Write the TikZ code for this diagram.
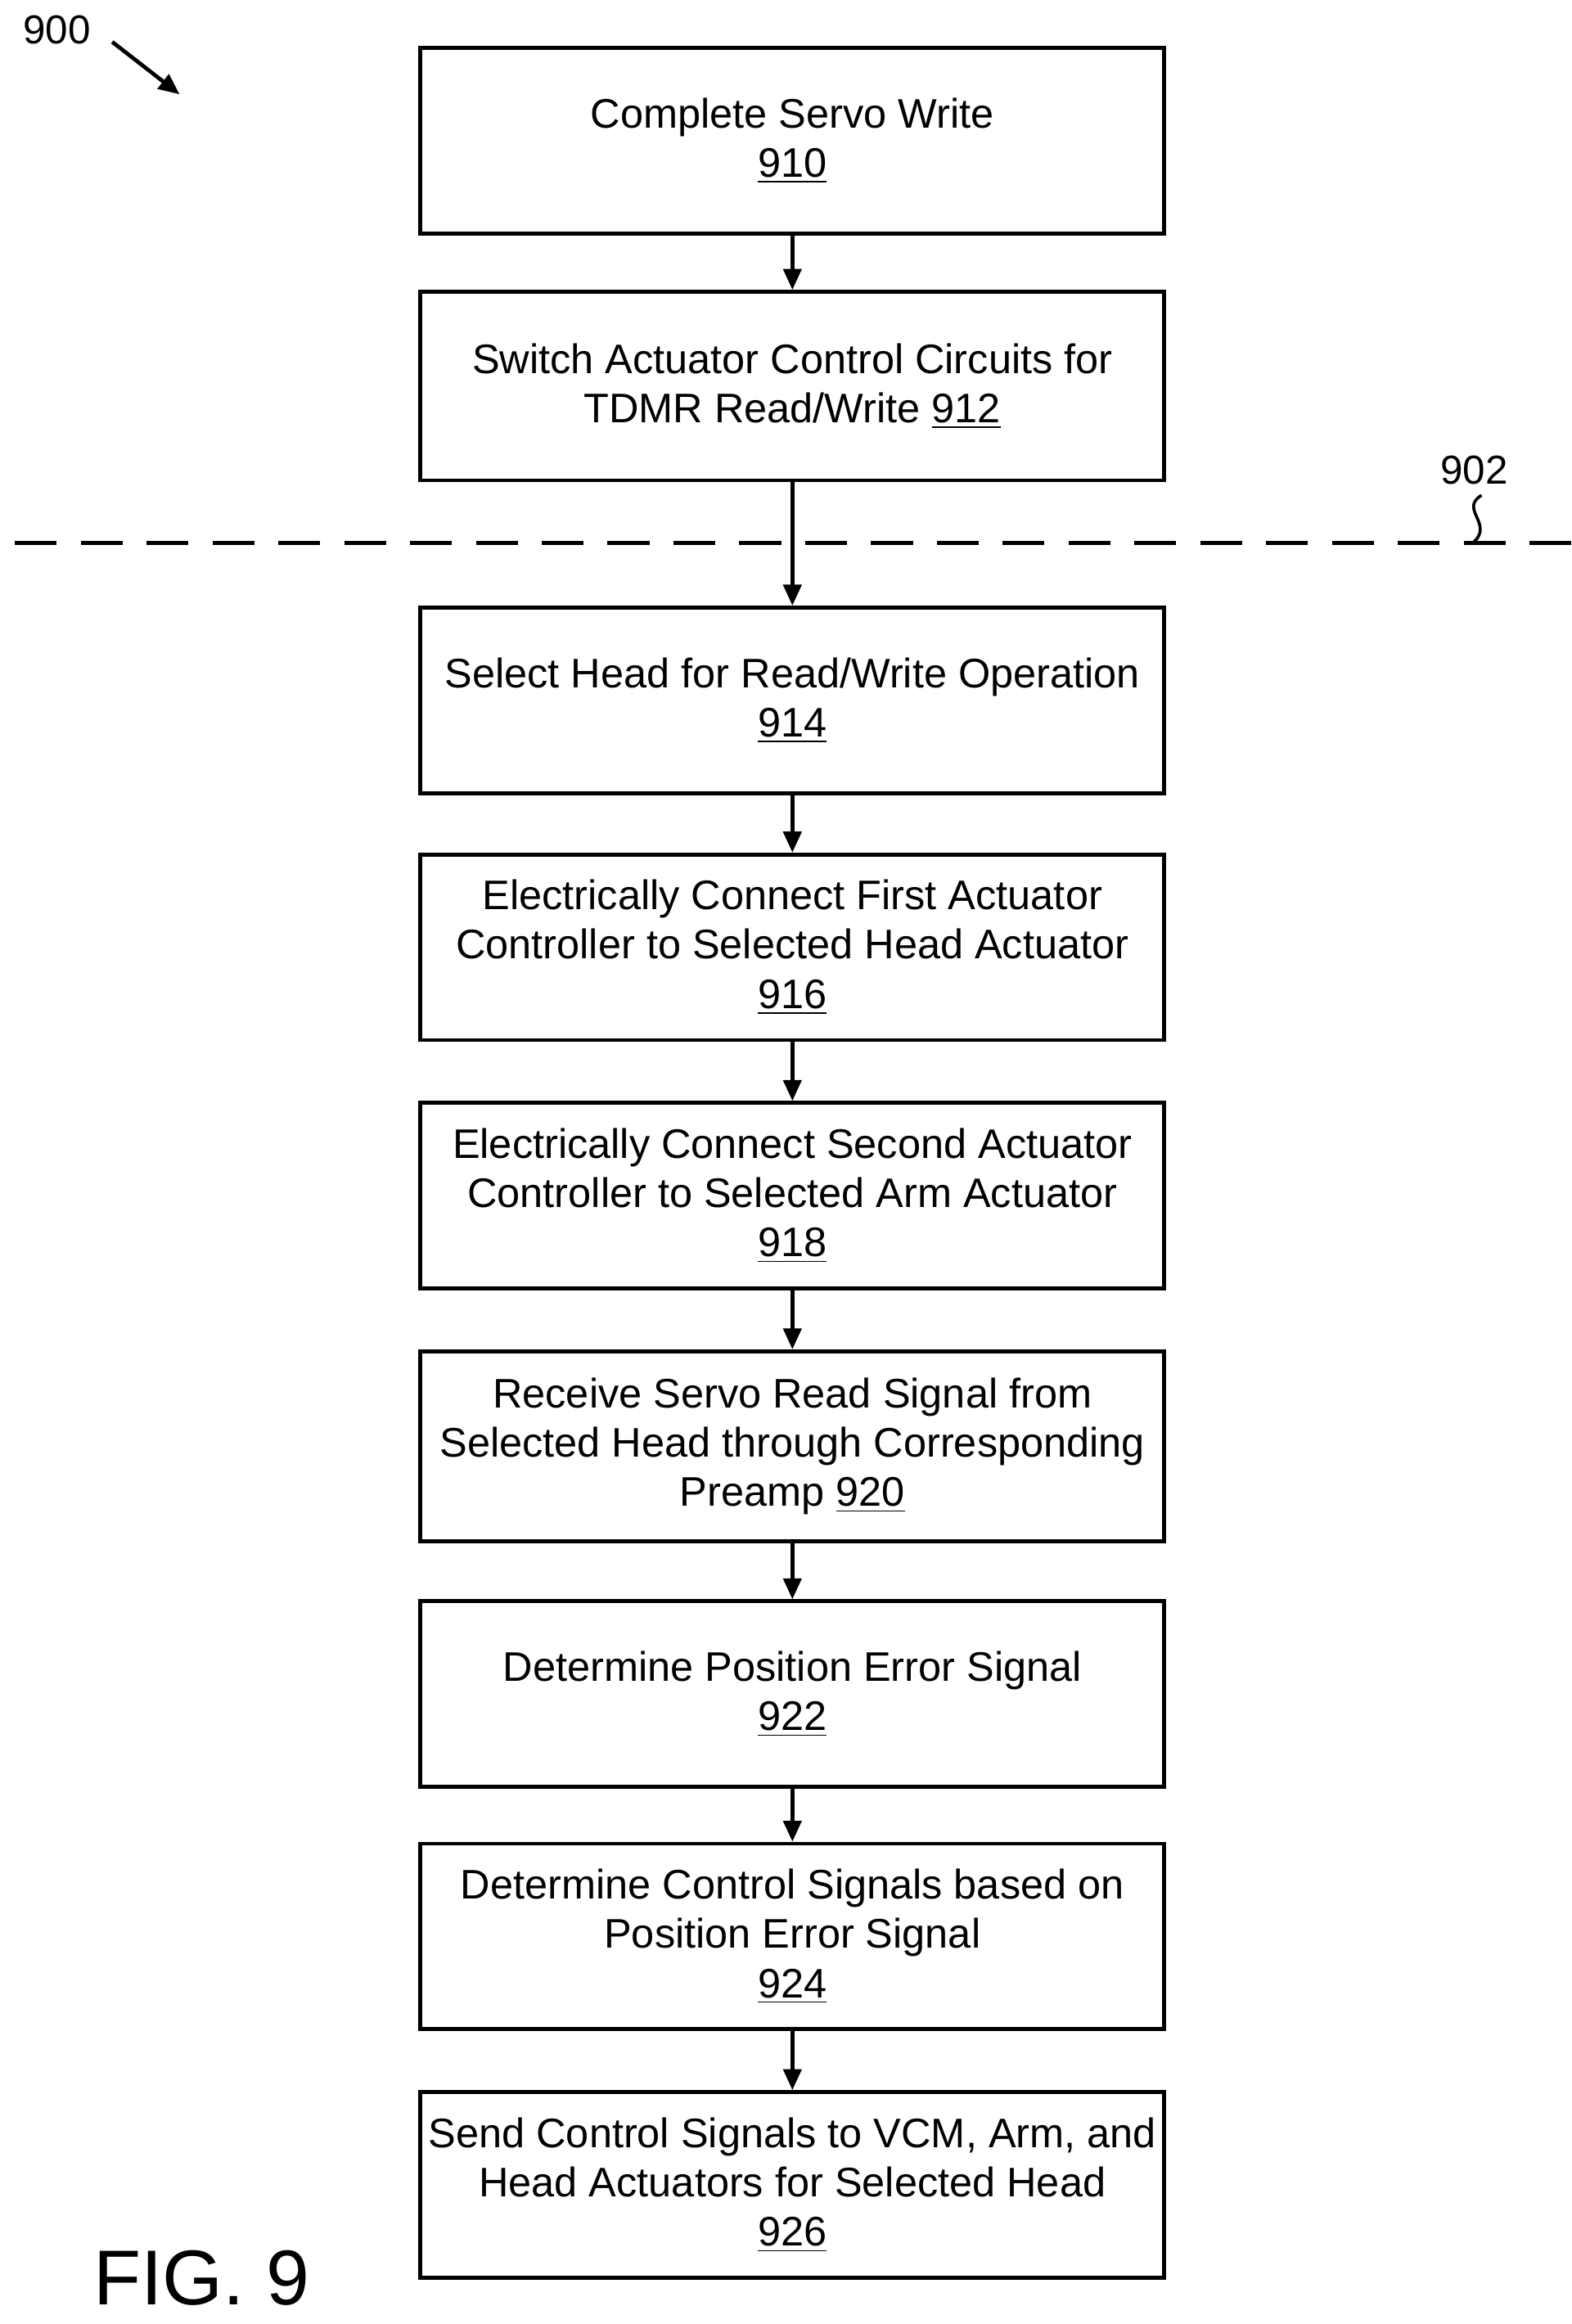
\documentclass[tikz,border=0pt]{standalone}
\usepackage{fontspec}
\setmainfont{Liberation Sans}
\usetikzlibrary{arrows.meta}
\begin{document}
\begin{tikzpicture}[x=0.5pt,y=-0.5pt,
  box/.style={draw,line width=1.3pt,minimum width=248.5pt,align=center,font=\fontsize{13.8}{16.5}\selectfont,inner sep=0pt},
  arr/.style={-{Triangle[length=7pt,width=6pt]},line width=1.3pt}]
\useasboundingbox (0,0) rectangle (1050,1553);
\newcommand{\bx}[4]{\node[box,minimum height={(#3-#2)*0.5pt}] (#1) at (529.5,{(#2+#3)/2}) {#4};}
\bx{b910}{32}{156}{Complete Servo Write\\\underline{910}}
\bx{b912}{195}{321}{Switch Actuator Control Circuits for\\TDMR Read/Write \underline{912}}
\bx{b914}{406}{530}{Select Head for Read/Write Operation\\\underline{914}}
\bx{b916}{571}{695}{Electrically Connect First Actuator\\Controller to Selected Head Actuator\\\underline{916}}
\bx{b918}{737}{861}{Electrically Connect Second Actuator\\Controller to Selected Arm Actuator\\\underline{918}}
\bx{b920}{903}{1030}{Receive Servo Read Signal from\\Selected Head through Corresponding\\Preamp \underline{920}}
\bx{b922}{1070}{1194}{Determine Position Error Signal\\\underline{922}}
\bx{b924}{1232}{1356}{Determine Control Signals based on\\Position Error Signal\\\underline{924}}
\bx{b926}{1398}{1522}{Send Control Signals to VCM, Arm, and\\Head Actuators for Selected Head\\\underline{926}}
\foreach \a/\b in {b910/b912,b912/b914,b914/b916,b916/b918,b918/b920,b920/b922,b922/b924,b924/b926}
  \draw[arr] (\a.south) -- (\b.north);
\draw[dashed,dash pattern=on 14pt off 8pt,line width=1.3pt] (10,363) -- (1050,363);
\node[font=\fontsize{13.5}{16}\selectfont] (l900) at (38,20) {900};
\coordinate (a900) at (120,63);
\draw[arr] (75,28) -- (a900);
\node[font=\fontsize{13.5}{16}\selectfont] (l902) at (985,314) {902};
\coordinate (s902) at (985,362);
\draw[line width=1pt] (990,331) .. controls (975,340) and (998,350) .. (s902);
\node[font=\fontsize{26}{30}\selectfont,anchor=base west,inner sep=0pt] (fig) at (62,1540) {FIG. 9};
\end{tikzpicture}
\end{document}
